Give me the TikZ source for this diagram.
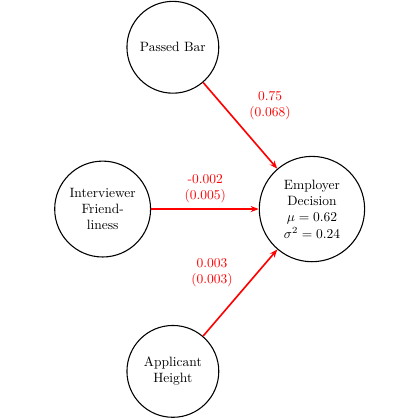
\documentclass[tikz,border=0pt]{standalone}
\usetikzlibrary{arrows.meta}
\tikzset{
  varnode/.style={draw,thick,circle,inner sep=0pt,align=center},
  pathedge/.style={->,line width=1.2pt,red},
  coefnode/.style={red,align=center}
}
\begin{document}
\begin{tikzpicture}[>={Stealth[length=6pt,width=4.5pt]},line join=bevel]
  \useasboundingbox (0pt,0pt) rectangle (311pt,311pt);
  % Node: passed_bar
  \node[varnode,minimum size=68pt] (passed_bar) at (128pt,276pt) {Passed Bar};
  % Node: friendliness
  \node[varnode,minimum size=71pt] (friendliness) at (76pt,156.2pt) {Interviewer\\Friend-\\liness};
  % Node: decision
  \node[varnode,minimum size=78pt] (decision) at (231pt,156.2pt) {Employer\\Decision\\$\mu = 0.62$\\$\sigma^2 = 0.24$};
  % Node: height
  \node[varnode,minimum size=68pt] (height) at (128pt,36pt) {Applicant\\Height};
  % Edge: passed_bar -> decision
  \draw [pathedge] (passed_bar) -- (decision);
  % Edge: friendliness -> decision
  \draw [pathedge] (friendliness) -- (decision);
  % Edge: height -> decision
  \draw [pathedge] (height) -- (decision);
  % Coefficients
  \node[coefnode] (coef_bar) at (200pt,233pt) {0.75\\(0.068)};
  \node[coefnode] (coef_friend) at (152pt,171pt) {-0.002\\(0.005)};
  \node[coefnode] (coef_height) at (157pt,109pt) {0.003\\(0.003)};
\end{tikzpicture}
\end{document}
